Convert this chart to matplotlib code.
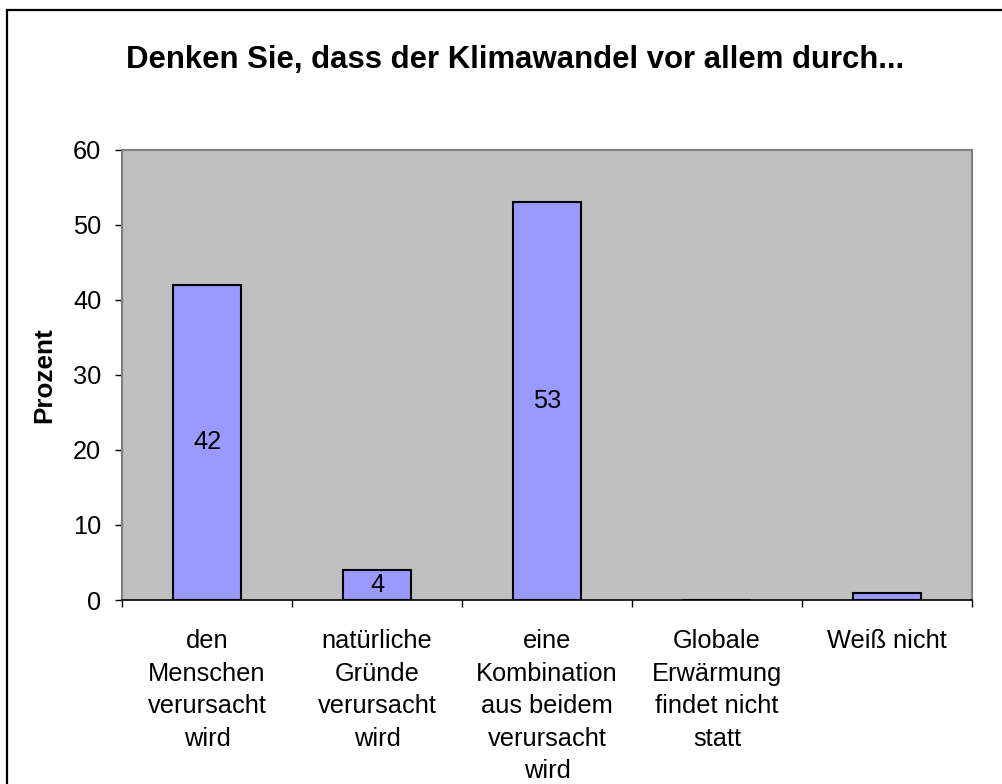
import matplotlib
matplotlib.use("Agg")
import matplotlib.pyplot as plt
from matplotlib.patches import Rectangle

categories = ["den\nMenschen\nverursacht\nwird",
              "natürliche\nGründe\nverursacht\nwird",
              "eine\nKombination\naus beidem\nverursacht\nwird",
              "Globale\nErwärmung\nfindet nicht\nstatt",
              "Weiß nicht"]
values = [42, 4, 53, 0, 1]
yticks = [0, 10, 20, 30, 40, 50, 60]
title = "Denken Sie, dass der Klimawandel vor allem durch..."
ylabel = "Prozent"

plt.rcParams['font.family'] = ['Liberation Sans', 'DejaVu Sans']
FS = 18.3

fig = plt.figure(figsize=(10.03, 7.84), dpi=100)
fig.patch.set_facecolor("white")
fig.add_artist(Rectangle((7 / 1003, -0.1), 1.2, 1 - 10 / 784 + 0.1,
                         transform=fig.transFigure, fill=False,
                         edgecolor="black", linewidth=1.6))

ax = fig.add_axes([122 / 1003, 1 - 600 / 784, 850 / 1003, 450 / 784])
ax.set_facecolor("#C0C0C0")
x = list(range(len(values)))
bars = ax.bar(x, values, width=0.4, color="#9999FF", edgecolor="black",
              linewidth=1.5, zorder=3)
for xi, v in zip(x, values):
    if v >= 2:
        ax.text(xi, v / 2, str(v), ha="center", va="center", fontsize=FS, zorder=4)

ax.set_xlim(-0.5, len(values) - 0.5)
ax.set_ylim(0, 60)
ax.set_yticks(yticks)
ax.set_yticklabels([str(t) for t in yticks], fontsize=FS)
ax.tick_params(axis="y", length=5, width=1, pad=10, color="black")

ax.set_xticks(x)
ax.set_xticklabels(categories, fontsize=FS, linespacing=1.45, va="top")
ax.tick_params(axis="x", which="major", length=0, pad=21)
ax.set_xticks([i - 0.5 for i in range(len(values) + 1)], minor=True)
ax.tick_params(axis="x", which="minor", length=5, width=1, color="black")

for s in ["top", "right", "left"]:
    ax.spines[s].set_color("#808080")
    ax.spines[s].set_linewidth(1.5)
ax.spines["bottom"].set_color("black")
ax.spines["bottom"].set_linewidth(1.2)
ax.spines["bottom"].set_zorder(5)

ax.set_ylabel(ylabel, fontsize=18.8, fontweight="bold")
ax.yaxis.set_label_coords(-(122 - 56) / 850, 0.5)

fig.text(515 / 1003, 1 - 60 / 784, title, ha="center", va="center",
         fontsize=22.4, fontweight="bold")

fig.savefig("out.png", dpi=100)
